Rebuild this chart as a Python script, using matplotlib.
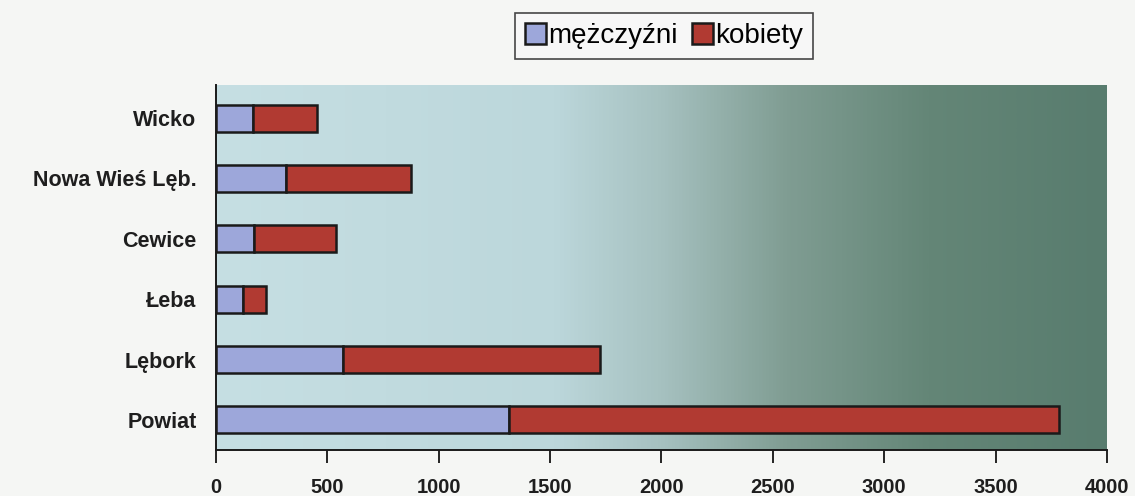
import numpy as np
import matplotlib
matplotlib.use("Agg")
import matplotlib.pyplot as plt
from matplotlib.colors import LinearSegmentedColormap

## data
categories = ["Powiat", "Lębork", "Łeba", "Cewice", "Nowa Wieś Lęb.", "Wicko"]
men = [1317, 571, 121, 171, 315, 165]
women = [2467, 1155, 104, 368, 562, 290]
xticks = [0, 500, 1000, 1500, 2000, 2500, 3000, 3500, 4000]

plt.rcParams["font.family"] = ["Liberation Sans", "DejaVu Sans"]

fig = plt.figure(figsize=(11.35, 4.96), dpi=100)
fig.patch.set_facecolor("#f5f6f4")
ax = fig.add_axes([0.1903, 0.0927, 0.785, 0.736])

# gradient background
bg = LinearSegmentedColormap.from_list("bg", [
    (0.0, "#c6dfe3"), (0.38, "#bcd7db"), (0.5, "#a6c1c0"),
    (0.64, "#809d93"), (0.8, "#648677"), (1.0, "#587c6e")])
grad = np.linspace(0, 1, 512).reshape(1, -1)
ax.imshow(grad, cmap=bg, aspect="auto", extent=[0, 1, 0, 1],
          transform=ax.transAxes, zorder=0)

y = np.arange(len(categories))
ax.barh(y, men, height=0.45, color="#9da7da", edgecolor="#1a1a1a",
        linewidth=1.8, label="mężczyźni", zorder=2)
ax.barh(y, women, left=men, height=0.45, color="#b13a32", edgecolor="#1a1a1a",
        linewidth=1.8, label="kobiety", zorder=2)

ax.set_xlim(0, 4000)
ax.set_ylim(-0.5, 5.55)
ax.set_xticks(xticks)
ax.set_yticks(y)
ax.set_yticklabels(categories, fontsize=15.5, fontweight="bold", color="#1e1e1e")
ax.set_xticklabels([str(t) for t in xticks], fontsize=14.5, fontweight="bold",
                   color="#1e1e1e")
ax.tick_params(axis="x", direction="out", length=9, width=1.2, pad=11)
ax.tick_params(axis="y", length=0, pad=14)

for s in ["top", "right"]:
    ax.spines[s].set_visible(False)
for s in ["left", "bottom"]:
    ax.spines[s].set_linewidth(1.4)
    ax.spines[s].set_color("#1a1a1a")

leg = fig.legend(loc="center", bbox_to_anchor=(0.585, 0.927), ncol=2,
                 fontsize=20, frameon=True, fancybox=False, handlelength=0.75,
                 handleheight=0.75, handletextpad=0.1, columnspacing=0.5,
                 borderpad=0.35, borderaxespad=0)
leg.get_frame().set_edgecolor("#1a1a1a")
leg.get_frame().set_linewidth(1.2)
leg.get_frame().set_facecolor("#f8f8f8")

fig.savefig("out.png", dpi=100, facecolor=fig.get_facecolor())
